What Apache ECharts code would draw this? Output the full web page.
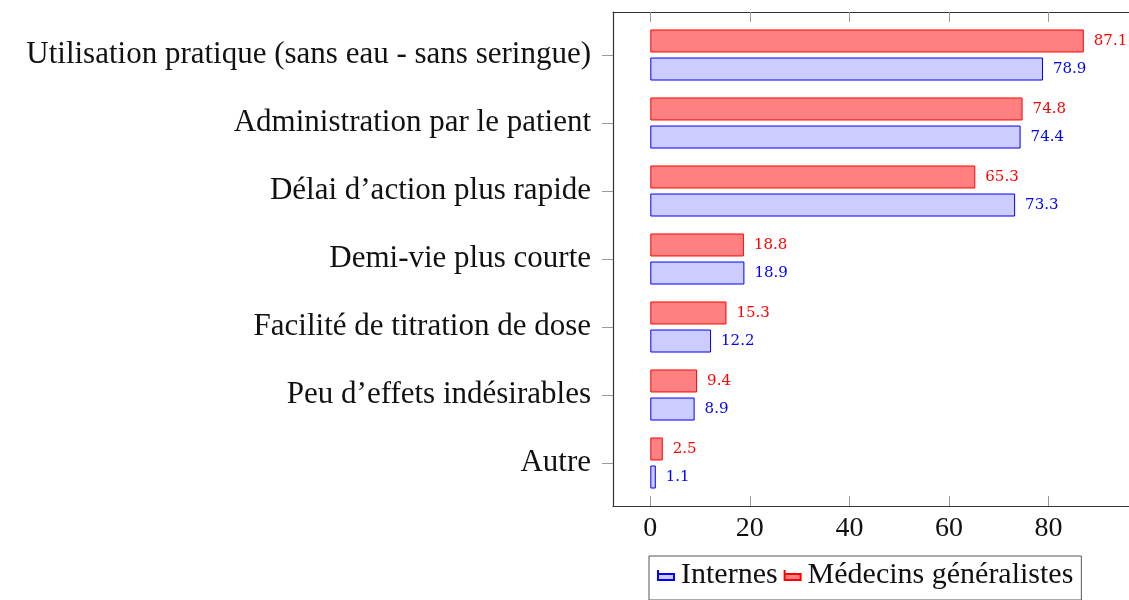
<!DOCTYPE html>
<html>
<head>
<meta charset="utf-8">
<script src="https://cdn.jsdelivr.net/npm/echarts@6/dist/echarts.min.js"></script>
<style>
  html, body { margin: 0; padding: 0; background: #fff; }
  #chart { width: 1129px; height: 600px; }
</style>
</head>
<body>
<div id="chart"></div>
<script>
// categories, top to bottom
const categories = [
  'Utilisation pratique (sans eau - sans seringue)',
  'Administration par le patient',
  'Délai d\u2019action plus rapide',
  'Demi-vie plus courte',
  'Facilité de titration de dose',
  'Peu d\u2019effets indésirables',
  'Autre'
]
const internes = [78.9, 74.4, 73.3, 18.9, 12.2, 8.9, 1.1]
const medecins = [87.1, 74.8, 65.3, 18.8, 15.3, 9.4, 2.5]
const xTicks = [0, 20, 40, 60, 80]

const serif = '"Liberation Serif", "DejaVu Serif", serif'
const smallSerif = '"DejaVu Serif", serif'
const frameColor = '#333'
const tickColor = '#999'

const chart = echarts.init(document.getElementById('chart'))

const xMin = -7.5
const xMax = 100

const option = {
  animation: false,
  grid: [
    // frame box (runs off the right edge like the original)
    { left: 613, top: 12, width: 535, height: 494, outerBoundsMode: 'none' },
    // bars
    { left: 613, top: 21, width: 535, height: 476, outerBoundsMode: 'none' }
  ],
  legend: {
    data: ['Internes', 'Médecins généralistes'],
    left: 649,
    top: 556,
    orient: 'horizontal',
    padding: [4, 8, 10, 8],
    itemGap: 6,
    itemWidth: 16,
    itemHeight: 10,
    borderColor: '#555',
    borderWidth: 1,
    icon: 'path://M0,0 L0,10 L16,10 L16,4 L0,4 Z',
    textStyle: { fontFamily: serif, fontSize: 30, color: '#111', padding: [8, 0, 0, 2] }
  },
  xAxis: [
    {
      gridIndex: 0, type: 'value', position: 'bottom', min: xMin, max: xMax,
      splitLine: { show: false },
      axisLine: { show: true, onZero: false, lineStyle: { color: frameColor, width: 1.2 } },
      axisTick: { show: true, inside: true, length: 10, customValues: xTicks, lineStyle: { color: tickColor } },
      axisLabel: { show: true, customValues: xTicks, margin: 9, fontFamily: serif, fontSize: 28, color: '#111' }
    },
    {
      gridIndex: 0, type: 'value', position: 'top', min: xMin, max: xMax,
      splitLine: { show: false },
      axisLine: { show: true, onZero: false, lineStyle: { color: frameColor, width: 1.2 } },
      axisTick: { show: true, inside: true, length: 10, customValues: xTicks, lineStyle: { color: tickColor } },
      axisLabel: { show: false }
    },
    {
      gridIndex: 1, type: 'value', min: xMin, max: xMax, show: false
    }
  ],
  yAxis: [
    {
      gridIndex: 0, type: 'value', position: 'left', min: 0, max: 1,
      splitLine: { show: false },
      axisLine: { show: true, onZero: false, lineStyle: { color: frameColor, width: 1.2 } },
      axisTick: { show: false },
      axisLabel: { show: false }
    },
    {
      gridIndex: 1, type: 'category', data: categories, inverse: true,
      axisLine: { show: false, onZero: false },
      axisTick: { show: true, alignWithLabel: true, length: 11, lineStyle: { color: tickColor } },
      axisLabel: { margin: 22, fontFamily: serif, fontSize: 31, color: '#111' }
    }
  ],
  series: [
    {
      name: 'Médecins généralistes',
      type: 'bar',
      xAxisIndex: 2,
      yAxisIndex: 1,
      data: medecins,
      barWidth: 23,
      barGap: '22%',
      itemStyle: { color: '#ff8080', borderColor: '#ff0000', borderWidth: 1 },
      label: {
        show: true, position: 'right', distance: 10,
        fontFamily: smallSerif, fontSize: 15, color: '#ff0000'
      }
    },
    {
      name: 'Internes',
      type: 'bar',
      xAxisIndex: 2,
      yAxisIndex: 1,
      data: internes,
      barWidth: 23,
      barGap: '22%',
      itemStyle: { color: '#ccccff', borderColor: '#0000ff', borderWidth: 1 },
      label: {
        show: true, position: 'right', distance: 10,
        fontFamily: smallSerif, fontSize: 15, color: '#0000ff'
      }
    }
  ]
}

chart.setOption(option)

window.addEventListener('resize', function () {
  chart.resize()
})
</script>
</body>
</html>
